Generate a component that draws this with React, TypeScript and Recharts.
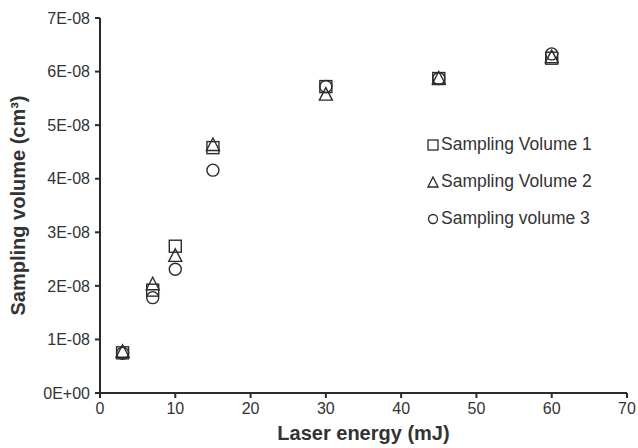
import React from 'react';
import {
  ScatterChart,
  Scatter,
  XAxis,
  YAxis,
  Label,
} from 'recharts';

// laser energy (mJ)
const energy = [3, 7, 10, 15, 30, 45, 60];
// sampling volume (cm3) per series
const volume1 = [7.5e-9, 1.92e-8, 2.74e-8, 4.58e-8, 5.72e-8, 5.87e-8, 6.25e-8];
const volume2 = [7.7e-9, 2.03e-8, 2.56e-8, 4.63e-8, 5.57e-8, 5.87e-8, 6.27e-8];
const volume3 = [7.4e-9, 1.78e-8, 2.31e-8, 4.16e-8, 5.72e-8, 5.87e-8, 6.33e-8];

const xTicks = [0, 10, 20, 30, 40, 50, 60, 70];
const yTicks = [0, 1e-8, 2e-8, 3e-8, 4e-8, 5e-8, 6e-8, 7e-8];

const seriesNames = ['Sampling Volume 1', 'Sampling Volume 2', 'Sampling volume 3'];

const toPoints = (ys: number[]) => energy.map((x, i) => ({ x, y: ys[i] }));

const INK = '#2b2b2b';
const TEXT = '#333';
const FONT = '"Liberation Sans", Arial, sans-serif';

// excel style tick labels: 7E-08, 0E+00
const sciFormat = (v: number) => {
  if (v === 0) return '0E+00';
  const exp = Math.floor(Math.log10(Math.abs(v)) + 1e-9);
  const mant = Math.round(v / Math.pow(10, exp));
  const sign = exp < 0 ? '-' : '+';
  const e = String(Math.abs(exp)).padStart(2, '0');
  return `${mant}E${sign}${e}`;
};

const Square = (props: any) => {
  const { cx, cy } = props;
  return <rect x={cx - 6} y={cy - 6} width={12} height={12} fill="none" stroke={INK} strokeWidth={1.4} />;
};

const Triangle = (props: any) => {
  const { cx, cy } = props;
  const p = `${cx},${cy - 7} ${cx + 6.5},${cy + 5.5} ${cx - 6.5},${cy + 5.5}`;
  return <polygon points={p} fill="none" stroke={INK} strokeWidth={1.4} />;
};

const Circle = (props: any) => {
  const { cx, cy } = props;
  return <circle cx={cx} cy={cy} r={6} fill="none" stroke={INK} strokeWidth={1.4} />;
};

const legendMarker = (i: number) => {
  if (i === 0) return <rect x={1} y={1} width={10} height={10} fill="none" stroke={INK} strokeWidth={1.3} />;
  if (i === 1) return <polygon points="6,1 11,11 1,11" fill="none" stroke={INK} strokeWidth={1.3} />;
  return <circle cx={6} cy={6} r={4.5} fill="none" stroke={INK} strokeWidth={1.3} />;
};

export default function App() {
  // pinned to the page corner so the body margin doesn't push it into a scrollbar
  return (
    <div style={{ position: 'absolute', left: 0, top: 0, width: 638, height: 448, overflow: 'hidden', background: '#fff' }}>
      <ScatterChart
        width={638}
        height={448}
        margin={{ top: 18, right: 11, bottom: 0, left: 0 }}
        style={{ fontFamily: FONT }}
      >
        <XAxis
          type="number"
          dataKey="x"
          domain={[0, 70]}
          ticks={xTicks}
          interval={0}
          height={55}
          axisLine={{ stroke: INK, strokeWidth: 2 }}
          tickLine={{ stroke: INK, strokeWidth: 2 }}
          tickSize={5}
          tick={{ fill: TEXT, fontSize: 16, dy: 3 }}
        >
          <Label
            value="Laser energy (mJ)"
            position="insideBottom"
            offset={8}
            style={{ fill: TEXT, fontSize: 20, fontWeight: 'bold' }}
          />
        </XAxis>
        <YAxis
          type="number"
          dataKey="y"
          domain={[0, 7e-8]}
          ticks={yTicks}
          interval={0}
          width={100}
          tickFormatter={sciFormat}
          axisLine={{ stroke: INK, strokeWidth: 2 }}
          tickLine={{ stroke: INK, strokeWidth: 2 }}
          tickSize={5}
          tick={{ fill: TEXT, fontSize: 16, dx: -3 }}
        >
          <Label
            value="Sampling volume (cm³)"
            angle={-90}
            position="insideLeft"
            offset={18}
            style={{ fill: TEXT, fontSize: 20, fontWeight: 'bold', textAnchor: 'middle' }}
          />
        </YAxis>
        <Scatter name={seriesNames[0]} data={toPoints(volume1)} shape={<Square />} isAnimationActive={false} />
        <Scatter name={seriesNames[1]} data={toPoints(volume2)} shape={<Triangle />} isAnimationActive={false} />
        <Scatter name={seriesNames[2]} data={toPoints(volume3)} shape={<Circle />} isAnimationActive={false} />
      </ScatterChart>
      <div
        style={{
          position: 'absolute',
          left: 427,
          top: 126,
          fontFamily: FONT,
          fontSize: 17.5,
          color: TEXT,
        }}
      >
        {seriesNames.map((name, i) => (
          <div key={name} style={{ display: 'flex', alignItems: 'center', height: 37, whiteSpace: 'nowrap' }}>
            <svg width={12} height={12} style={{ marginRight: 2 }}>
              {legendMarker(i)}
            </svg>
            <span>{name}</span>
          </div>
        ))}
      </div>
    </div>
  );
}
